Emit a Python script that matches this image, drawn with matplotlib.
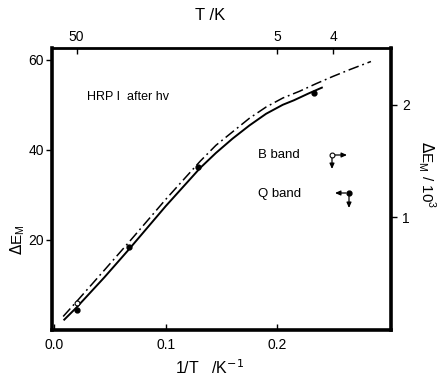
import numpy as np
import matplotlib
matplotlib.use("Agg")
import matplotlib.pyplot as plt

plt.rcParams['font.family'] = ['Liberation Sans', 'DejaVu Sans']

# data
solid_x = [0.009, 0.02, 0.045, 0.067, 0.10, 0.131, 0.145, 0.16, 0.175, 0.19, 0.205, 0.215, 0.228, 0.240]
solid_y = [2.3, 5.0, 11.7, 17.9, 27.5, 36.0, 39.3, 42.5, 45.4, 48.0, 50.0, 51.0, 52.5, 53.8]
dash_x = [0.008, 0.02, 0.045, 0.067, 0.10, 0.131, 0.145, 0.16, 0.175, 0.19, 0.205, 0.22, 0.235, 0.25, 0.265, 0.284]
dash_y = [3.0, 6.3, 13.3, 19.5, 29.0, 37.5, 41.0, 44.0, 47.0, 49.5, 51.5, 53.0, 54.7, 56.3, 57.8, 59.6]
q_x = [0.02, 0.067, 0.129, 0.233]
q_y = [4.4, 18.4, 36.2, 52.7]
b_x = [0.02]
b_y = [6.0]
top_T = [50, 5, 4]
right_ticks = [1, 2]
scale = 25.0

fig = plt.figure(figsize=(4.45, 3.81), dpi=100)
ax = fig.add_axes([52/445, 1-330/381, (391-52)/445, (330-48)/381])
ax.set_xlim(-0.002, 0.302)
ax.set_ylim(0, 62.6)

ax.plot(solid_x, solid_y, color='black', lw=1.4, solid_joinstyle='round')
ax.plot(dash_x, dash_y, color='black', lw=1.1, linestyle=(0, (7, 2.5, 1.2, 2.5)))
ax.plot(q_x, q_y, 'o', color='black', ms=3.5)
ax.plot(b_x, b_y, 'o', mfc='white', mec='black', ms=3.5, mew=0.8)

ax.set_xticks([0.0, 0.1, 0.2])
ax.set_xticklabels(['0.0', '0.1', '0.2'])
ax.set_yticks([20, 40, 60])
ax.tick_params(axis='x', direction='in', length=4, width=1, labelsize=10, pad=6)
ax.tick_params(axis='y', direction='out', length=4, width=1, labelsize=10, pad=2)
for s in ['left', 'bottom', 'right']:
    ax.spines[s].set_linewidth(2.6)
ax.spines['top'].set_linewidth(2.0)

# top axis: temperature
axt = ax.twiny()
axt.set_xlim(ax.get_xlim())
axt.set_xticks([1.0/t for t in top_T])
axt.set_xticklabels([str(t) for t in top_T])
axt.tick_params(axis='x', direction='in', length=4, width=1, labelsize=10, pad=3)
for s in ['left', 'bottom', 'right', 'top']:
    axt.spines[s].set_visible(False)

# right axis
axr = ax.twinx()
axr.set_ylim(0, 62.6/scale)
axr.set_yticks(right_ticks)
axr.tick_params(axis='y', direction='out', length=4, width=1, labelsize=10, pad=4)
for s in ['left', 'bottom', 'top', 'right']:
    axr.spines[s].set_visible(False)

fig.text(210/445, 1-15/381, 'T /K', ha='center', va='center', fontsize=12)
fig.text(210/445, 1-368/381, r'1/T   /K$^{-1}$', ha='center', va='center', fontsize=11.5)
fig.text(18/445, 1-240/381, r'$\Delta$E$_\mathregular{M}$', ha='center', va='center',
         rotation=90, fontsize=11)
fig.text(427/445, 1-175/381, r'$\Delta$E$_\mathregular{M}$ / 10$^\mathregular{3}$', ha='center',
         va='center', rotation=270, fontsize=11)

fig.text(87/445, 1-97/381, 'HRP I  after hv', ha='left', va='center', fontsize=9)
fig.text(258/445, 1-155/381, 'B band', ha='left', va='center', fontsize=9.5)
fig.text(258/445, 1-194/381, 'Q band', ha='left', va='center', fontsize=9.5)

# legend symbols in figure pixel coordinates
def px(x, y):
    return (x/445, 1-y/381)

akw = dict(arrowstyle='-|>,head_length=0.45,head_width=0.2', color='black', lw=0.9)
def arrow(p0, p1):
    fig.add_artist(matplotlib.patches.FancyArrowPatch(px(*p0), px(*p1), mutation_scale=7,
                   shrinkA=0, shrinkB=0, transform=fig.transFigure, **akw))

arrow((335, 155), (347, 155))
arrow((332, 158), (332, 169))
fig.add_artist(matplotlib.lines.Line2D([332/445], [1-155/381], marker='o', mfc='white',
               mec='black', ms=3.5, mew=0.8, transform=fig.transFigure))
arrow((346, 193), (335, 193))
arrow((349, 196), (349, 208))
fig.add_artist(matplotlib.lines.Line2D([349/445], [1-193/381], marker='o', color='black',
               ms=3.5, transform=fig.transFigure))

fig.savefig('out.png', dpi=100)
